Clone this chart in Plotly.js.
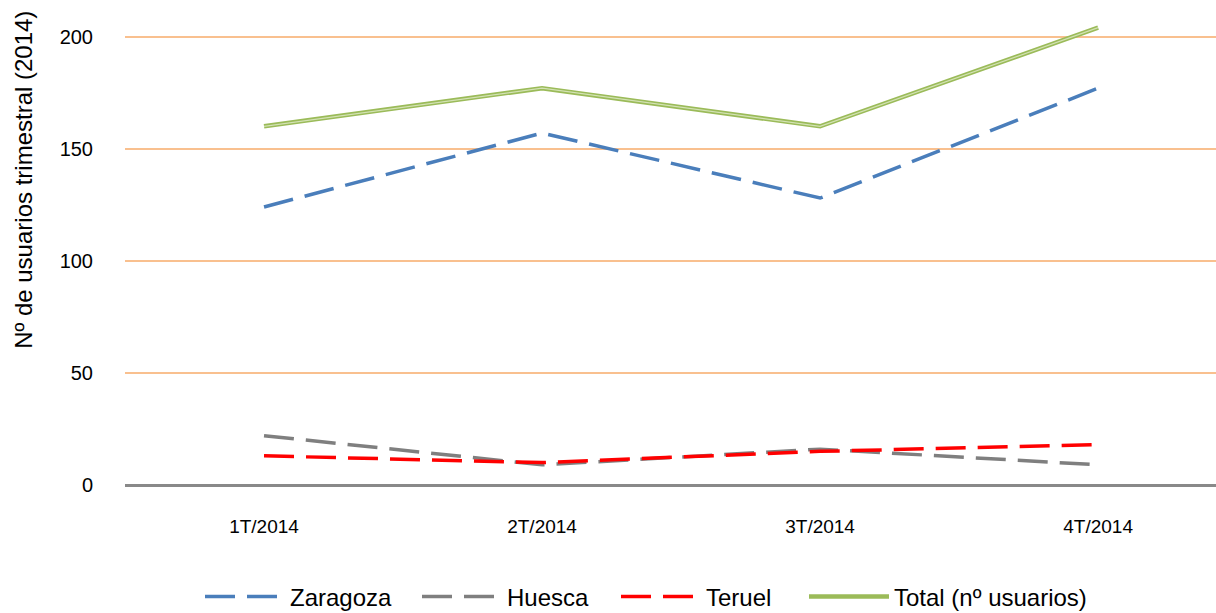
<!DOCTYPE html>
<html>
<head>
<meta charset="utf-8">
<script src="https://cdn.plot.ly/plotly-3.0.1.min.js"></script>
<style>html,body{margin:0;padding:0;background:#fff;}#chart{width:1216px;height:613px;}</style>
</head>
<body>
<div id="chart"></div>
<script>
const categories = ["1T/2014", "2T/2014", "3T/2014", "4T/2014"];
const zaragoza = [124, 157, 128, 177];
const huesca = [22, 9, 16, 9];
const teruel = [13, 10, 15, 18];
const total = [160, 177, 160, 204];
const yTicks = [0, 50, 100, 150, 200];
const yTitle = "Nº de usuarios trimestral (2014)";

const dashPat = "30px,12px";
const traces = [
  {x: categories, y: zaragoza, name: "Zaragoza", mode: "lines", legend: "legend",
   line: {color: "#4a7ebb", width: 3.5, dash: dashPat}},
  {x: categories, y: huesca, name: "Huesca", mode: "lines", legend: "legend2",
   line: {color: "#7f7f7f", width: 3.5, dash: dashPat}},
  {x: categories, y: teruel, name: "Teruel", mode: "lines", legend: "legend3",
   line: {color: "#ff0000", width: 3.5, dash: dashPat}},
  {x: categories, y: total, name: "Total (nº usuarios)", mode: "lines", legend: "legend4",
   line: {color: "#9bbb59", width: 4.5}},
  {x: categories, y: total, name: "Total (nº usuarios)", mode: "lines", showlegend: false,
   hoverinfo: "skip", line: {color: "#d3e2b4", width: 1.2}}
];

function leg(px) {
  return {
    orientation: "h", xref: "container", yref: "container",
    x: px / 1216, y: 1 - 597 / 613, xanchor: "left", yanchor: "middle",
    font: {size: 24, color: "#000"}, itemwidth: 80,
    bgcolor: "rgba(0,0,0,0)"
  };
}

const layout = {
  width: 1216, height: 613,
  margin: {l: 125, r: 0, t: 3, b: 128},
  paper_bgcolor: "#ffffff", plot_bgcolor: "#ffffff",
  font: {family: "Liberation Sans, Arial, sans-serif", color: "#000"},
  showlegend: true,
  xaxis: {
    type: "category", range: [-0.5, 3.424],
    showgrid: false, zeroline: false, showline: false,
    ticks: "outside", ticklen: 24, tickcolor: "rgba(0,0,0,0)",
    tickfont: {size: 19, color: "#000"}
  },
  yaxis: {
    range: [0, 215], tickvals: yTicks, ticktext: yTicks.map(String),
    showgrid: true, gridcolor: "#f9c08f", gridwidth: 2,
    zeroline: true, zerolinecolor: "#898989", zerolinewidth: 3,
    showline: false,
    ticks: "outside", ticklen: 27, tickcolor: "rgba(0,0,0,0)",
    tickfont: {size: 20, color: "#000"}
  },
  annotations: [{
    text: yTitle, xref: "paper", yref: "paper",
    x: -0.0926, y: 0.633, xanchor: "center", yanchor: "middle",
    textangle: -90, showarrow: false,
    font: {size: 24, color: "#000"}
  }],
  legend: leg(200),
  legend2: leg(417),
  legend3: leg(616),
  legend4: leg(804)
};

Plotly.newPlot("chart", traces, layout, {displayModeBar: false, staticPlot: true});
</script>
</body>
</html>
